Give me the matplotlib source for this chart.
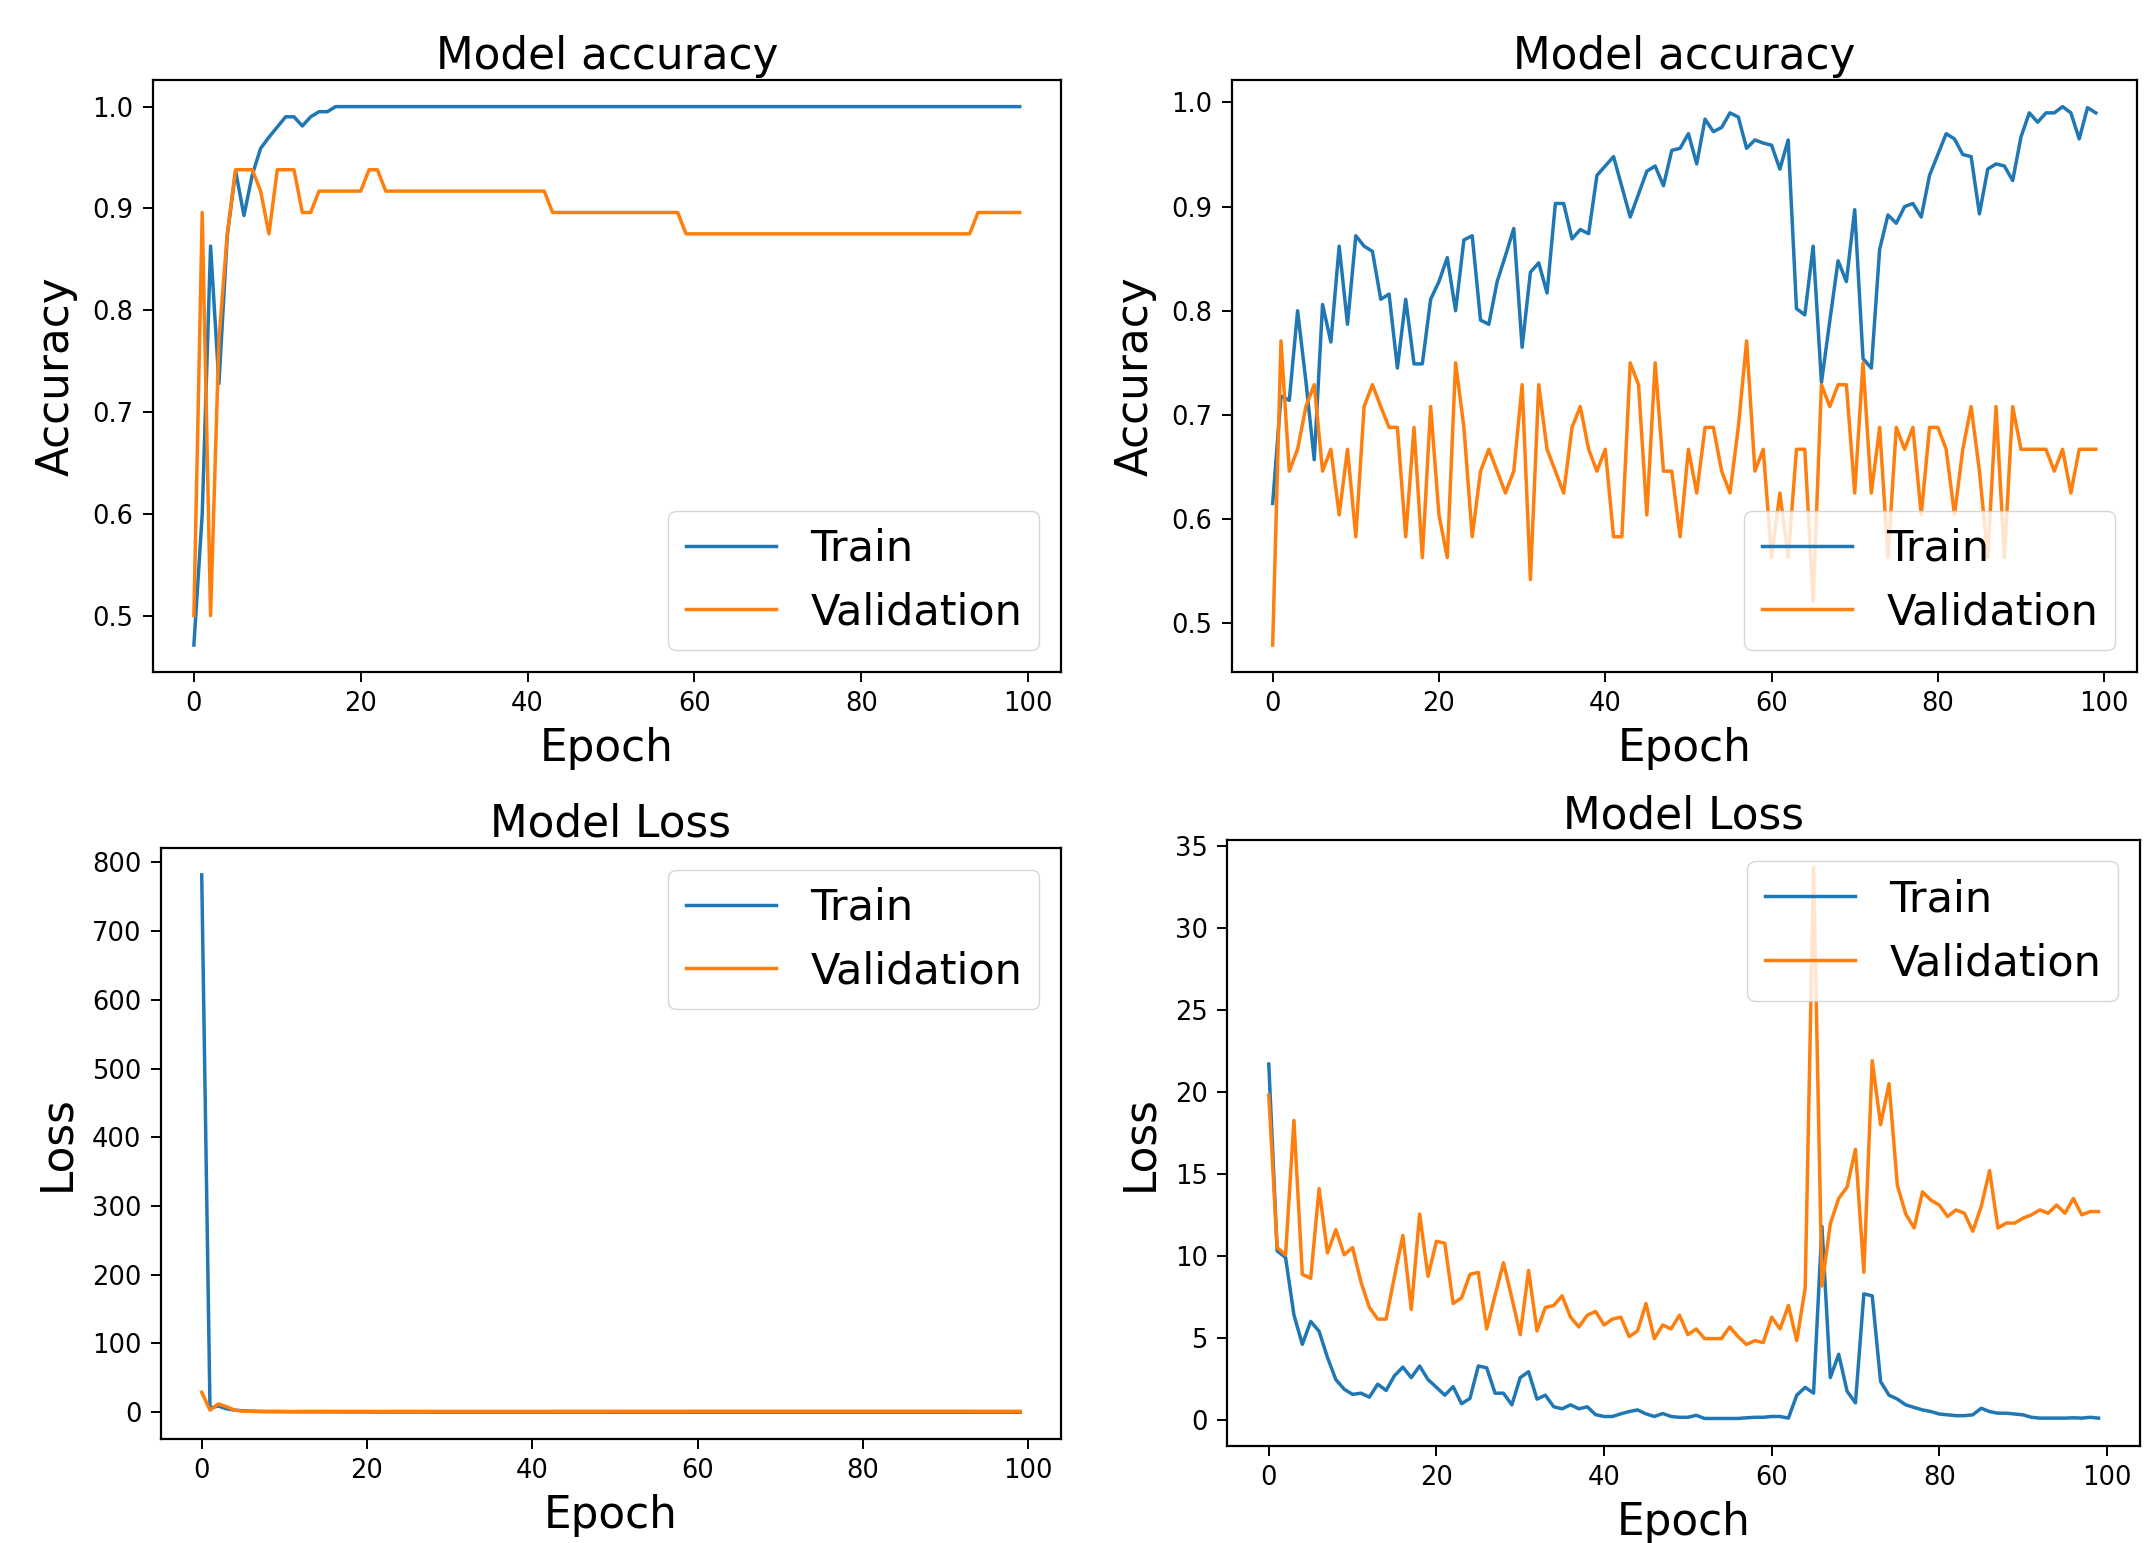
import matplotlib
matplotlib.use("Agg")
import matplotlib.pyplot as plt

epochs = list(range(100))

# ---- Top-left: accuracy (model 1) ----
train_acc_1 = [
    0.471, 0.600, 0.863, 0.728, 0.873, 0.937, 0.893, 0.933, 0.959, 0.970,
    0.980, 0.990, 0.990, 0.981, 0.990, 0.995, 0.995, 1.000, 1.000, 1.000,
    1.000, 1.000, 1.000, 1.000, 1.000, 1.000, 1.000, 1.000, 1.000, 1.000,
    1.000, 1.000, 1.000, 1.000, 1.000, 1.000, 1.000, 1.000, 1.000, 1.000,
    1.000, 1.000, 1.000, 1.000, 1.000, 1.000, 1.000, 1.000, 1.000, 1.000,
    1.000, 1.000, 1.000, 1.000, 1.000, 1.000, 1.000, 1.000, 1.000, 1.000,
    1.000, 1.000, 1.000, 1.000, 1.000, 1.000, 1.000, 1.000, 1.000, 1.000,
    1.000, 1.000, 1.000, 1.000, 1.000, 1.000, 1.000, 1.000, 1.000, 1.000,
    1.000, 1.000, 1.000, 1.000, 1.000, 1.000, 1.000, 1.000, 1.000, 1.000,
    1.000, 1.000, 1.000, 1.000, 1.000, 1.000, 1.000, 1.000, 1.000, 1.000,
]
val_acc_1 = [
    0.500, 0.896, 0.500, 0.771, 0.875, 0.938, 0.938, 0.938, 0.917, 0.875,
    0.938, 0.938, 0.938, 0.896, 0.896, 0.917, 0.917, 0.917, 0.917, 0.917,
    0.917, 0.938, 0.938, 0.917, 0.917, 0.917, 0.917, 0.917, 0.917, 0.917,
    0.917, 0.917, 0.917, 0.917, 0.917, 0.917, 0.917, 0.917, 0.917, 0.917,
    0.917, 0.917, 0.917, 0.896, 0.896, 0.896, 0.896, 0.896, 0.896, 0.896,
    0.896, 0.896, 0.896, 0.896, 0.896, 0.896, 0.896, 0.896, 0.896, 0.875,
    0.875, 0.875, 0.875, 0.875, 0.875, 0.875, 0.875, 0.875, 0.875, 0.875,
    0.875, 0.875, 0.875, 0.875, 0.875, 0.875, 0.875, 0.875, 0.875, 0.875,
    0.875, 0.875, 0.875, 0.875, 0.875, 0.875, 0.875, 0.875, 0.875, 0.875,
    0.875, 0.875, 0.875, 0.875, 0.896, 0.896, 0.896, 0.896, 0.896, 0.896,
]

# ---- Top-right: accuracy (model 2) ----
train_acc_2 = [
    0.615, 0.718, 0.714, 0.800, 0.732, 0.657, 0.806, 0.770, 0.862, 0.787,
    0.872, 0.862, 0.857, 0.811, 0.816, 0.745, 0.811, 0.749, 0.749, 0.811,
    0.828, 0.851, 0.800, 0.868, 0.872, 0.791, 0.787, 0.828, 0.853, 0.879,
    0.765, 0.837, 0.846, 0.817, 0.903, 0.903, 0.869, 0.878, 0.874, 0.930,
    0.939, 0.948, 0.919, 0.890, 0.912, 0.934, 0.939, 0.920, 0.954, 0.956,
    0.970, 0.941, 0.984, 0.972, 0.976, 0.990, 0.986, 0.956, 0.964, 0.961,
    0.959, 0.936, 0.964, 0.802, 0.796, 0.862, 0.731, 0.790, 0.848, 0.828,
    0.897, 0.754, 0.745, 0.859, 0.892, 0.884, 0.900, 0.903, 0.890, 0.930,
    0.950, 0.970, 0.965, 0.950, 0.948, 0.893, 0.936, 0.941, 0.939, 0.925,
    0.967, 0.990, 0.981, 0.990, 0.990, 0.996, 0.990, 0.965, 0.995, 0.990,
]
val_acc_2 = [
    0.479, 0.771, 0.646, 0.667, 0.708, 0.729, 0.646, 0.667, 0.604, 0.667,
    0.583, 0.708, 0.729, 0.708, 0.688, 0.688, 0.583, 0.688, 0.563, 0.708,
    0.604, 0.563, 0.750, 0.688, 0.583, 0.646, 0.667, 0.646, 0.625, 0.646,
    0.729, 0.542, 0.729, 0.667, 0.646, 0.625, 0.688, 0.708, 0.667, 0.646,
    0.667, 0.583, 0.583, 0.750, 0.729, 0.604, 0.750, 0.646, 0.646, 0.583,
    0.667, 0.625, 0.688, 0.688, 0.646, 0.625, 0.688, 0.771, 0.646, 0.667,
    0.563, 0.625, 0.563, 0.667, 0.667, 0.521, 0.729, 0.708, 0.729, 0.729,
    0.625, 0.750, 0.625, 0.688, 0.563, 0.688, 0.667, 0.688, 0.604, 0.688,
    0.688, 0.667, 0.604, 0.667, 0.708, 0.646, 0.563, 0.708, 0.563, 0.708,
    0.667, 0.667, 0.667, 0.667, 0.646, 0.667, 0.625, 0.667, 0.667, 0.667,
]

# ---- Bottom-left: loss (model 1) ----
train_loss_1 = [
    782.0, 6.0, 9.0, 5.0, 3.0, 2.0, 1.5, 1.2, 1.0, 0.9,
    0.8, 0.7, 0.7, 0.6, 0.6, 0.5, 0.5, 0.4, 0.4, 0.4,
    0.4, 0.3, 0.3, 0.3, 0.3, 0.3, 0.3, 0.3, 0.2, 0.2,
    0.2, 0.2, 0.2, 0.2, 0.2, 0.2, 0.2, 0.2, 0.2, 0.2,
    0.2, 0.2, 0.2, 0.2, 0.2, 0.2, 0.2, 0.2, 0.2, 0.2,
    0.1, 0.1, 0.1, 0.1, 0.1, 0.1, 0.1, 0.1, 0.1, 0.1,
    0.1, 0.1, 0.1, 0.1, 0.1, 0.1, 0.1, 0.1, 0.1, 0.1,
    0.1, 0.1, 0.1, 0.1, 0.1, 0.1, 0.1, 0.1, 0.1, 0.1,
    0.1, 0.1, 0.1, 0.1, 0.1, 0.1, 0.1, 0.1, 0.1, 0.1,
    0.1, 0.1, 0.1, 0.1, 0.1, 0.1, 0.1, 0.1, 0.1, 0.1,
]
val_loss_1 = [
    29.0, 3.0, 12.0, 8.0, 3.0, 1.5, 1.2, 1.0, 1.0, 1.2,
    1.0, 1.0, 1.1, 1.3, 1.3, 1.2, 1.2, 1.2, 1.2, 1.2,
    1.2, 1.1, 1.1, 1.2, 1.2, 1.2, 1.2, 1.2, 1.2, 1.2,
    1.2, 1.2, 1.2, 1.2, 1.2, 1.2, 1.2, 1.2, 1.2, 1.2,
    1.2, 1.2, 1.2, 1.3, 1.3, 1.3, 1.3, 1.3, 1.3, 1.3,
    1.3, 1.3, 1.3, 1.3, 1.3, 1.3, 1.3, 1.3, 1.3, 1.4,
    1.4, 1.4, 1.4, 1.4, 1.4, 1.4, 1.4, 1.4, 1.4, 1.4,
    1.4, 1.4, 1.4, 1.4, 1.4, 1.4, 1.4, 1.4, 1.4, 1.4,
    1.4, 1.4, 1.4, 1.4, 1.4, 1.4, 1.4, 1.4, 1.4, 1.4,
    1.4, 1.4, 1.4, 1.4, 1.3, 1.3, 1.3, 1.3, 1.3, 1.3,
]

# ---- Bottom-right: loss (model 2) ----
train_loss_2 = [
    21.7, 10.3, 9.9, 6.4, 4.6, 6.0, 5.4, 3.8, 2.45, 1.86,
    1.55, 1.62, 1.38, 2.17, 1.79, 2.69, 3.21, 2.57, 3.28, 2.45,
    1.98, 1.5, 2.02, 0.98, 1.3, 3.28, 3.17, 1.62, 1.62, 0.91,
    2.57, 2.93, 1.26, 1.5, 0.79, 0.67, 0.91, 0.67, 0.79, 0.31,
    0.2, 0.2, 0.36, 0.5, 0.6, 0.36, 0.2, 0.38, 0.2, 0.15,
    0.15, 0.27, 0.08, 0.08, 0.08, 0.08, 0.08, 0.12, 0.15, 0.15,
    0.2, 0.2, 0.1, 1.5, 1.98, 1.62, 11.8, 2.57, 4.0, 1.74,
    1.03, 7.68, 7.56, 2.33, 1.5, 1.26, 0.91, 0.75, 0.6, 0.5,
    0.35, 0.3, 0.25, 0.25, 0.3, 0.7, 0.5, 0.4, 0.4, 0.35,
    0.3, 0.15, 0.1, 0.1, 0.1, 0.1, 0.12, 0.1, 0.15, 0.1,
]
val_loss_2 = [
    19.8, 10.5, 10.06, 18.26, 8.87, 8.63, 14.1, 10.18, 11.6, 10.06,
    10.5, 8.4, 6.85, 6.14, 6.14, 8.75, 11.25, 6.73, 12.55, 8.75,
    10.89, 10.77, 7.09, 7.44, 8.87, 8.99, 5.54, 7.6, 9.58, 7.44,
    5.19, 9.11, 5.42, 6.85, 6.97, 7.56, 6.26, 5.66, 6.38, 6.61,
    5.78, 6.14, 6.26, 5.07, 5.42, 7.09, 4.95, 5.78, 5.54, 6.38,
    5.19, 5.54, 4.95, 4.95, 4.95, 5.66, 5.07, 4.59, 4.83, 4.71,
    6.26, 5.54, 6.97, 4.83, 8.04, 33.7, 8.16, 11.96, 13.5, 14.2,
    16.5, 9.0, 21.9, 18.0, 20.5, 14.3, 12.55, 11.7, 13.9, 13.4,
    13.1, 12.4, 12.8, 12.6, 11.5, 13.0, 15.2, 11.7, 12.0, 12.0,
    12.3, 12.5, 12.8, 12.6, 13.1, 12.6, 13.5, 12.5, 12.7, 12.7,
]

legend_labels = ["Train", "Validation"]

W, H = 2155, 1543
fig = plt.figure(figsize=(W / 100, H / 100), dpi=100)


def rect(left, right, top, bottom):
    return [left / W, 1 - bottom / H, (right - left) / W, (bottom - top) / H]


LABEL_FS = 31.5
LEGEND_FS = 31
TICK_FS = 18.5
LW = 2.5

panels = [
    (rect(152.6, 1061, 79.7, 672), train_acc_1, val_acc_1, "Model accuracy", "Accuracy", "lower right"),
    (rect(1231.5, 2137, 79.7, 672), train_acc_2, val_acc_2, "Model accuracy", "Accuracy", "lower right"),
    (rect(160.8, 1061, 848, 1439), train_loss_1, val_loss_1, "Model Loss", "Loss", "upper right"),
    (rect(1227.3, 2140, 839.8, 1446), train_loss_2, val_loss_2, "Model Loss", "Loss", "upper right"),
]

for r, tr, va, title, ylabel, loc in panels:
    ax = fig.add_axes(r)
    ax.plot(epochs, tr, color="#1f77b4", lw=LW)
    ax.plot(epochs, va, color="#ff7f0e", lw=LW)
    ax.set_title(title, fontsize=LABEL_FS, pad=8)
    ax.set_ylabel(ylabel, fontsize=LABEL_FS, labelpad=10)
    ax.set_xlabel("Epoch", fontsize=LABEL_FS, labelpad=7)
    ax.tick_params(labelsize=TICK_FS, length=7, width=1.4, pad=7)
    for s in ax.spines.values():
        s.set_linewidth(1.6)
    ax.set_xticks([0, 20, 40, 60, 80, 100])
    ax.legend(legend_labels, loc=loc, fontsize=LEGEND_FS, handlelength=2.1)

fig.savefig("out.png", dpi=100)
